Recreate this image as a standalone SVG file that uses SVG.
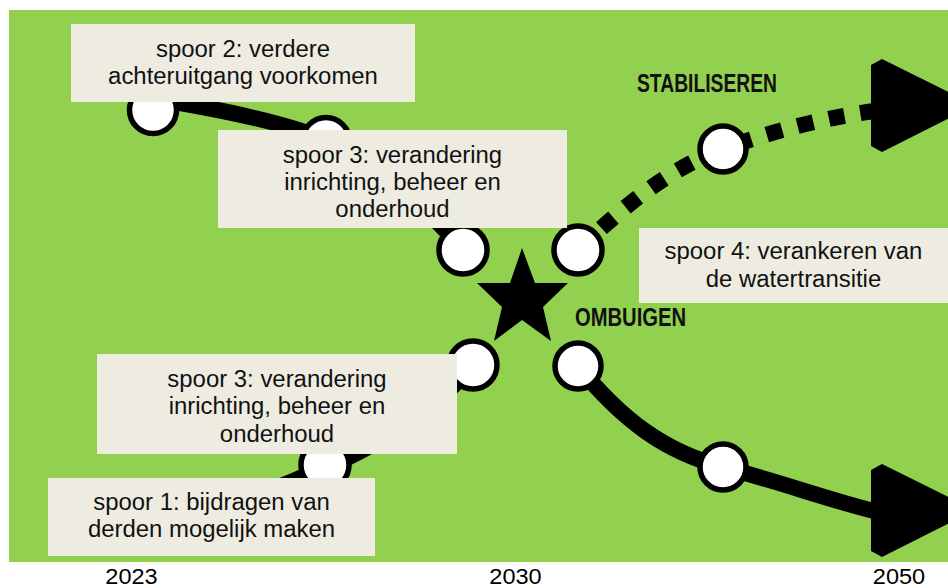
<svg xmlns="http://www.w3.org/2000/svg" width="948" height="588" viewBox="0 0 948 588">
  <style>
    .bg { fill: #92D050; }
    .box { fill: #EEECE1; }
    .t { font-family: "Liberation Sans", Arial, sans-serif; font-size: 23px; fill: #111; text-anchor: middle; }
    .lbl { font-family: "Liberation Sans Narrow", "Liberation Sans", Arial, sans-serif; font-weight: bold; font-size: 25px; fill: #111; }
    .yr { font-family: "Liberation Sans", Arial, sans-serif; font-size: 22px; fill: #000; text-anchor: middle; }
    .line { fill: none; stroke: #000; stroke-width: 16; }
    .dots { fill: none; stroke: #000; stroke-width: 16; stroke-dasharray: 16 16; }
    .node { fill: #fff; stroke: #000; stroke-width: 5.5; }
    .head { fill: #000; }
  </style>
  <rect width="948" height="588" fill="#fff"/>
  <rect class="bg" x="9" y="10" width="939" height="552"/>

  <g id="connectors">
    <path class="line" d="M150,98 C200,106 280,120 326,140 S420,200 463,250"/>
    <path class="line" d="M175,525 C225,510 275,488 325,468 C375,448 440,405 473,365"/>
    <path class="line" d="M578,366 C622,420 665,452 723,467 C780,482 830,500 874,511"/>
    <path class="dots" d="M578,250 C625,205 670,168 723,149 C775,130 830,117 874,111"/>
    <polygon class="head" points="871,65 882,59 975,105 882,152 871,146"/>
    <polygon class="head" points="871,470 882,464 975,510 882,557 871,551"/>
  </g>

  <g id="node-a"><circle class="node" cx="153" cy="110" r="23.5"/></g>
  <g id="node-b"><circle class="node" cx="326" cy="141" r="23.5"/></g>
  <g id="node-c"><circle class="node" cx="463" cy="250" r="24"/></g>
  <g id="node-d"><circle class="node" cx="578" cy="250" r="24"/></g>
  <g id="node-e"><circle class="node" cx="723" cy="149" r="23"/></g>
  <g id="node-f"><circle class="node" cx="473" cy="365" r="24"/></g>
  <g id="node-g"><circle class="node" cx="578" cy="366" r="23"/></g>
  <g id="node-h"><circle class="node" cx="723" cy="467" r="23"/></g>
  <g id="node-i"><circle class="node" cx="325" cy="465" r="24"/></g>

  <g id="star">
    <polygon fill="#000" points="522,248 535,283 568,283 543,307 551,341 522,320 494,341 502,307 477,283 510,283"/>
  </g>

  <g id="box-spoor2">
    <rect class="box" x="71" y="24" width="344" height="78"/>
    <g transform="translate(243 0) scale(1.04 1)">
      <text class="t" x="0" y="57">spoor 2: verdere</text>
      <text class="t" x="0" y="84">achteruitgang voorkomen</text>
    </g>
  </g>

  <g id="box-spoor3-top">
    <rect class="box" x="218" y="130" width="349" height="98"/>
    <g transform="translate(392.5 0) scale(1.04 1)">
      <text class="t" x="0" y="163">spoor 3: verandering</text>
      <text class="t" x="0" y="190">inrichting, beheer en</text>
      <text class="t" x="0" y="217">onderhoud</text>
    </g>
  </g>

  <g id="box-spoor4">
    <rect class="box" x="639" y="228" width="309" height="75"/>
    <g transform="translate(793.5 0) scale(1.04 1)">
      <text class="t" x="0" y="259">spoor 4: verankeren van</text>
      <text class="t" x="0" y="287">de watertransitie</text>
    </g>
  </g>

  <g id="box-spoor3-bottom">
    <rect class="box" x="97" y="354" width="360" height="100"/>
    <g transform="translate(277 0) scale(1.04 1)">
      <text class="t" x="0" y="387">spoor 3: verandering</text>
      <text class="t" x="0" y="414">inrichting, beheer en</text>
      <text class="t" x="0" y="442">onderhoud</text>
    </g>
  </g>

  <g id="box-spoor1">
    <rect class="box" x="48" y="478" width="327" height="78"/>
    <g transform="translate(211.5 0) scale(1.04 1)">
      <text class="t" x="0" y="510">spoor 1: bijdragen van</text>
      <text class="t" x="0" y="537">derden mogelijk maken</text>
    </g>
  </g>

  <g id="label-stabiliseren">
    <text class="lbl" x="637" y="92" textLength="140" lengthAdjust="spacingAndGlyphs">STABILISEREN</text>
  </g>
  <g id="label-ombuigen">
    <text class="lbl" x="575" y="326" textLength="111" lengthAdjust="spacingAndGlyphs">OMBUIGEN</text>
  </g>

  <g id="years">
    <g transform="translate(131.5 0) scale(1.07 1)"><text class="yr" x="0" y="584">2023</text></g>
    <g transform="translate(515.5 0) scale(1.07 1)"><text class="yr" x="0" y="584">2030</text></g>
    <g transform="translate(899 0) scale(1.07 1)"><text class="yr" x="0" y="584">2050</text></g>
  </g>
</svg>
